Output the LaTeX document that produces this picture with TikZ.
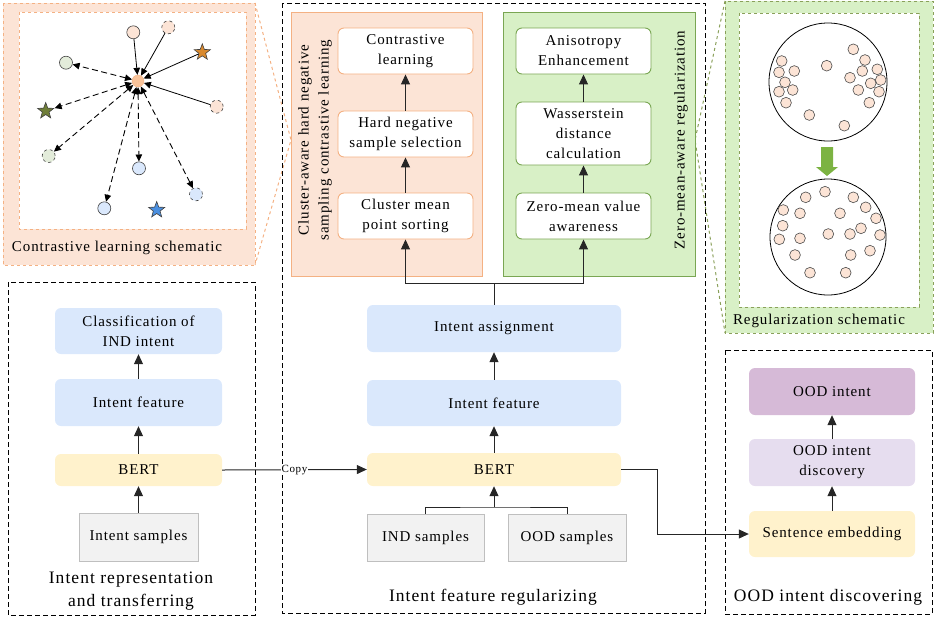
\documentclass[tikz,border=0pt]{standalone}
\usepackage{fontspec}
\setmainfont{Liberation Serif}[LetterSpace=6]
\usetikzlibrary{arrows.meta,shapes.geometric}
\definecolor{bluefill}{HTML}{DAE8FC}
\definecolor{yellowfill}{HTML}{FFF2CC}
\definecolor{grayfill}{HTML}{F2F2F2}
\definecolor{grayline}{HTML}{BFBFBF}
\definecolor{orfill}{HTML}{FCE4D6}
\definecolor{orline}{HTML}{F4B183}
\definecolor{grfill}{HTML}{D8F0C6}
\definecolor{grline}{HTML}{7AA653}
\definecolor{grdash}{HTML}{8AA05A}
\definecolor{purpdark}{HTML}{D6BAD7}
\definecolor{purplight}{HTML}{E6DDEF}
\definecolor{centerorange}{HTML}{F8C39A}
\definecolor{starorange}{HTML}{D9892E}
\definecolor{starolive}{HTML}{6F7E38}
\definecolor{starblue}{HTML}{4A8FE0}
\definecolor{palegreen}{HTML}{E3ECDA}
\definecolor{arrowgreen}{HTML}{7CB342}
\begin{document}
\begin{tikzpicture}[x=1pt,y=-1pt,
  boxfont/.style={font=\fontsize{15}{20}\selectfont},
  basebox/.style={boxfont,align=center,inner sep=0pt,rounded corners=6pt},
  bluebox/.style={basebox,fill=bluefill},
  yellowbox/.style={basebox,fill=yellowfill},
  graybox/.style={boxfont,align=center,inner sep=0pt,fill=grayfill,draw=grayline,line width=0.9pt},
  orbox/.style={basebox,fill=white,draw=orline,line width=0.9pt},
  grbox/.style={basebox,fill=white,draw=grline,line width=0.9pt},
  pdbox/.style={basebox,fill=purpdark},
  plbox/.style={basebox,fill=purplight},
  arr/.style={draw=black!85,line width=1pt,-{Triangle[length=10pt,width=9pt]}},
  plain/.style={draw=black!85,line width=1pt},
  panel/.style={draw=black,dash pattern=on 5pt off 3pt,line width=1pt},
  paneltitle/.style={font=\fontsize{17.5}{23}\selectfont,align=center},
  sidetitle/.style={font=\fontsize{15}{20}\selectfont,align=center,rotate=90},
  pt/.style={circle,minimum size=13pt,inner sep=0pt,draw=black!75,line width=0.6pt},
  ptd/.style={pt,dashed},
  st/.style={star,star points=5,star point ratio=2.4,minimum size=17pt,inner sep=0pt,draw=black!75,line width=0.6pt},
  sarr/.style={line width=0.8pt,-{Triangle[length=7pt,width=6.5pt]}},
  darr/.style={line width=0.9pt,dash pattern=on 6pt off 3.5pt,{Triangle[length=7pt,width=6.5pt]}-{Triangle[length=7pt,width=6.5pt]}},
  dot/.style={fill=orfill,draw=black!70,line width=0.6pt},
  copylbl/.style={font=\fontsize{11}{12}\selectfont,inner sep=0.5pt}
]
\useasboundingbox (0,0) rectangle (935,625);

% ---------------- contrastive learning schematic (top left)
\draw[orline,dashed,line width=1pt] (255,3) -- (291,140) -- (255,265);
\draw[fill=orfill,draw=orline,dashed,line width=1pt] (3,3) rectangle (255,265);
\draw[fill=white,draw=orline,dashed,line width=1pt] (19,12) rectangle (246,229);
\node[font=\fontsize{15}{18}\selectfont] (cltitle) at (117,248) {Contrastive learning schematic};

\node[circle,minimum size=12pt,inner sep=0pt,fill=centerorange,draw=orline] (c0) at (138,81) {};
\node[pt,fill=orfill] (p1) at (133.3,32.3) {};
\node[ptd,fill=orfill] (p2) at (168.3,27.3) {};
\node[st,fill=starorange] (s1) at (202.3,52.3) {};
\node[ptd,fill=orfill] (p3) at (216.7,106.7) {};
\node[pt,fill=palegreen] (g1) at (66,62.7) {};
\node[st,fill=starolive] (s2) at (45.7,111) {};
\node[ptd,fill=palegreen] (g2) at (48.7,156) {};
\node[pt,fill=bluefill] (b1) at (139,168.3) {};
\node[pt,fill=bluefill] (b2) at (104.3,208.3) {};
\node[ptd,fill=bluefill] (b3) at (196,194.3) {};
\node[st,fill=starblue] (s3) at (156.7,210) {};

\draw[sarr] (p1) -- (c0);
\draw[sarr] (p2) -- (c0);
\draw[sarr] (s1) -- (c0);
\draw[sarr] (p3) -- (c0);
\draw[darr] (c0) -- (g1);
\draw[darr] (c0) -- (s2);
\draw[darr] (c0) -- (g2);
\draw[darr] (c0) -- (b1);
\draw[darr] (c0) -- (b2);
\draw[darr] (c0) -- (b3);

% ---------------- regularization schematic (top right)
\draw[grdash,dashed,line width=1pt] (725,1) -- (695,140) -- (725,333);
\draw[fill=grfill,draw=grdash,dashed,line width=1pt] (725,1) rectangle (933,333);
\draw[fill=white,draw=grdash,dashed,line width=1pt] (739,13) rectangle (919,307);
\node[font=\fontsize{15}{18}\selectfont] (rgtitle) at (819,321) {Regularization schematic};
\draw[line width=0.8pt] (828,82) circle[radius=59];
\draw[line width=0.8pt] (828,237) circle[radius=58];
\foreach \p in {(853.3,49.3),(781.7,61),(865,60),(826.7,65.7),(779,72.3),(794.3,71),(862.3,71),(877.3,69.3),(785,82.3),(850,77.7),(870.7,83.3),(880.7,80),(779,91.7),(792.7,90),(858.3,90),(879,91.7),(786,102.7),(869.3,102.7),(809.3,115),(844.3,125.7),
(825,191.7),(805.7,197.3),(853.3,197.3),(783.3,210),(800,213.3),(865.7,207.3),(840,213.3),(876,218.3),(782.7,225.7),(861,228.3),(828.3,234),(850,234),(880,235),(779.3,239.3),(800,238.3),(795,255),(850.7,255),(870,250.7),(810,272.7),(845.7,272.7)}
  \draw[dot] \p circle[radius=5.4];
\fill[arrowgreen] (821,147) -- (833,147) -- (833,167) -- (838,167) -- (827,176) -- (816,167) -- (821,167) -- cycle;

% ---------------- left panel
\draw[panel] (8,282) rectangle (255,615);
\node[bluebox,minimum width=167pt,minimum height=46pt] (lcls) at (138.5,331) {Classification of\\IND intent};
\node[bluebox,minimum width=167pt,minimum height=47pt] (lfeat) at (138.5,402.5) {Intent feature};
\node[yellowbox,minimum width=167pt,minimum height=32pt] (lbert) at (138.5,470) {BERT};
\node[graybox,minimum width=119pt,minimum height=48pt] (lsamp) at (138.5,537) {Intent samples};
\node[paneltitle] (ltitle) at (131,591) {Intent representation\\and transferring};
\draw[arr] (lsamp) -- (lbert);
\draw[arr] (lbert) -- (lfeat);
\draw[arr] (lfeat) -- (lcls);

% ---------------- middle panel
\draw[panel] (282,3) rectangle (705,613);
\draw[fill=orfill,draw=orline,line width=1pt] (291,12) rectangle (482,276);
\draw[fill=grfill,draw=grline,line width=1pt] (503,12) rectangle (695,276);
\node[sidetitle] (ortitle) at (315,140) {Cluster-aware hard negative\\sampling contrastive learning};
\node[sidetitle] (grtitle) at (681,140) {Zero-mean-aware regularization};

\node[orbox,minimum width=135pt,minimum height=46pt] (cl) at (405.5,51) {Contrastive\\learning};
\node[orbox,minimum width=135pt,minimum height=46pt] (hn) at (405.5,134) {Hard negative\\sample selection};
\node[orbox,minimum width=135pt,minimum height=46pt] (cm) at (405.5,216) {Cluster mean\\point sorting};
\node[grbox,minimum width=135pt,minimum height=46pt] (an) at (583.5,51) {Anisotropy\\Enhancement};
\node[grbox,minimum width=135pt,minimum height=63pt] (ws) at (583.5,133.5) {Wasserstein\\distance\\calculation};
\node[grbox,minimum width=135pt,minimum height=46pt] (zm) at (583.5,216) {Zero-mean value\\awareness};
\draw[arr] (cm) -- (hn);
\draw[arr] (hn) -- (cl);
\draw[arr] (zm) -- (ws);
\draw[arr] (ws) -- (an);

\node[bluebox,minimum width=254pt,minimum height=47pt] (ia) at (494,328.5) {Intent assignment};
\node[bluebox,minimum width=254pt,minimum height=46pt] (mfeat) at (494,403) {Intent feature};
\node[yellowbox,minimum width=254pt,minimum height=33pt] (mbert) at (494,469.5) {BERT};
\node[graybox,minimum width=117pt,minimum height=47pt] (ind) at (425.5,537.5) {IND samples};
\node[graybox,minimum width=118pt,minimum height=47pt] (ood) at (567,537.5) {OOD samples};
\node[paneltitle] (mtitle) at (493,597) {Intent feature regularizing};

\coordinate (jm) at (494,283);
\coordinate (ij) at (494,507);
\draw[plain] (ia.north) -- (jm);
\draw[arr] (jm) -| (cm.south);
\draw[arr] (jm) -| (zm.south);
\draw[arr] (mfeat) -- (ia);
\draw[arr] (mbert) -- (mfeat);
\draw[plain] (ind.north) |- (ij) -| (ood.north);
\draw[arr] (ij) -- (mbert.south);

% ---------------- right panel
\draw[panel] (725,350) rectangle (932,614);
\node[pdbox,minimum width=166pt,minimum height=47pt] (oi) at (832,391.5) {OOD intent};
\node[plbox,minimum width=166pt,minimum height=47pt] (od) at (832,462.5) {OOD intent\\discovery};
\node[yellowbox,minimum width=166pt,minimum height=46pt] (se) at (832,534) {Sentence embedding};
\node[paneltitle] (rtitle) at (828,597) {OOD intent discovering};
\draw[arr] (se) -- (od);
\draw[arr] (od) -- (oi);

% ---------------- cross connectors
\draw[arr] (lbert.east) -- node[copylbl,fill=white,pos=0.5] (copy) {Copy} (mbert.west);
\draw[arr] (mbert.east) -- ++(36,0) |- (se.west);
\end{tikzpicture}
\end{document}
